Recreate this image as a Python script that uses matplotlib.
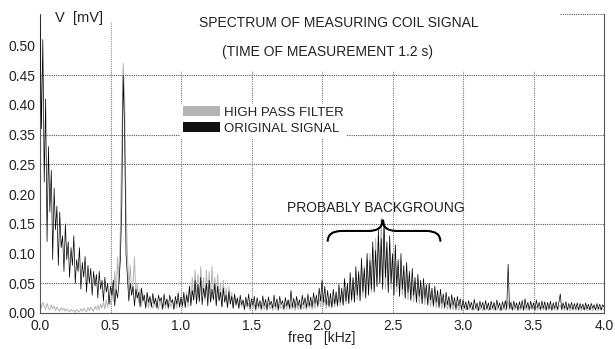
import numpy as np
import matplotlib.pyplot as plt
from matplotlib.patches import Patch, Rectangle, PathPatch
from matplotlib.path import Path

plt.rcParams['font.family'] = ['Liberation Sans', 'DejaVu Sans']

# frequency grid, kHz (step 0.01)
freq = np.round(np.arange(0, 401) * 0.01, 2)

# original signal (y in axis position units, see tick labels below)
original = [
    0.50, 0.31, 0.46, 0.22, 0.36, 0.12, 0.28, 0.17, 0.24, 0.09, 0.21, 0.14, 0.18, 0.08, 0.17, 0.11, 0.13, 0.07, 0.15, 0.09,
    0.12, 0.06, 0.11, 0.08, 0.13, 0.05, 0.09, 0.07, 0.11, 0.04, 0.085, 0.06, 0.095, 0.035, 0.08, 0.05, 0.075, 0.03, 0.07, 0.045,
    0.065, 0.025, 0.07, 0.04, 0.055, 0.02, 0.06, 0.035, 0.05, 0.015, 0.045, 0.03, 0.055, 0.012, 0.04, 0.025, 0.05, 0.09, 0.18, 0.40,
    0.31, 0.10, 0.06, 0.02, 0.05, 0.03, 0.045, 0.012, 0.04, 0.025, 0.035, 0.01, 0.042, 0.02, 0.03, 0.008, 0.035, 0.018, 0.028, 0.01,
    0.033, 0.015, 0.025, 0.008, 0.03, 0.02, 0.026, 0.007, 0.032, 0.014, 0.024, 0.009, 0.03, 0.018, 0.022, 0.006, 0.028, 0.015, 0.034, 0.01,
    0.027, 0.012, 0.035, 0.009, 0.03, 0.018, 0.045, 0.012, 0.038, 0.022, 0.055, 0.015, 0.048, 0.02, 0.06, 0.014, 0.042, 0.025, 0.05, 0.012,
    0.055, 0.018, 0.04, 0.022, 0.05, 0.012, 0.045, 0.02, 0.035, 0.01, 0.042, 0.018, 0.03, 0.009, 0.036, 0.015, 0.028, 0.008, 0.032, 0.014,
    0.025, 0.008, 0.03, 0.014, 0.022, 0.006, 0.027, 0.012, 0.032, 0.008, 0.024, 0.013, 0.028, 0.006, 0.026, 0.011, 0.021, 0.007, 0.029, 0.012,
    0.023, 0.006, 0.027, 0.013, 0.02, 0.008, 0.03, 0.011, 0.024, 0.006, 0.028, 0.014, 0.021, 0.007, 0.026, 0.012, 0.022, 0.008, 0.038, 0.01,
    0.025, 0.009, 0.028, 0.012, 0.022, 0.007, 0.03, 0.014, 0.026, 0.009, 0.032, 0.012, 0.027, 0.01, 0.034, 0.016, 0.03, 0.012, 0.042, 0.02,
    0.055, 0.018, 0.045, 0.014, 0.038, 0.012, 0.033, 0.01, 0.04, 0.015, 0.036, 0.012, 0.048, 0.018, 0.042, 0.013, 0.058, 0.02, 0.05, 0.016,
    0.068, 0.022, 0.06, 0.018, 0.078, 0.03, 0.07, 0.02, 0.092, 0.035, 0.075, 0.025, 0.10, 0.03, 0.088, 0.04, 0.12, 0.035, 0.105, 0.045,
    0.14, 0.05, 0.125, 0.04, 0.155, 0.06, 0.12, 0.035, 0.13, 0.05, 0.10, 0.03, 0.115, 0.045, 0.09, 0.028, 0.10, 0.04, 0.08, 0.025,
    0.085, 0.035, 0.07, 0.022, 0.075, 0.03, 0.06, 0.018, 0.065, 0.028, 0.055, 0.016, 0.058, 0.025, 0.048, 0.014, 0.05, 0.022, 0.042, 0.012,
    0.045, 0.018, 0.038, 0.01, 0.04, 0.016, 0.032, 0.009, 0.035, 0.014, 0.028, 0.008, 0.031, 0.013, 0.026, 0.007, 0.028, 0.012, 0.024, 0.006,
    0.022, 0.008, 0.019, 0.005, 0.021, 0.009, 0.018, 0.005, 0.023, 0.008, 0.017, 0.004, 0.02, 0.009, 0.018, 0.005, 0.021, 0.007, 0.017, 0.005,
    0.02, 0.008, 0.018, 0.005, 0.022, 0.009, 0.017, 0.004, 0.019, 0.008, 0.021, 0.006, 0.082, 0.008, 0.018, 0.005, 0.02, 0.009, 0.017, 0.005,
    0.019, 0.008, 0.021, 0.005, 0.024, 0.009, 0.018, 0.006, 0.02, 0.008, 0.017, 0.005, 0.022, 0.009, 0.018, 0.006, 0.02, 0.008, 0.019, 0.005,
    0.018, 0.007, 0.02, 0.005, 0.017, 0.008, 0.019, 0.006, 0.018, 0.032, 0.006, 0.017, 0.008, 0.019, 0.005, 0.016, 0.008, 0.018, 0.006, 0.016,
    0.007, 0.017, 0.005, 0.016, 0.008, 0.015, 0.005, 0.017, 0.007, 0.015, 0.005, 0.016, 0.008, 0.014, 0.005, 0.016, 0.007, 0.015, 0.005, 0.014,
    0.01,
]

highpass = [
    0.022, 0.008, 0.018, 0.012, 0.006, 0.016, 0.009, 0.005, 0.014, 0.007, 0.012, 0.004, 0.01, 0.006, 0.003, 0.009, 0.005, 0.008, 0.003, 0.007,
    0.004, 0.002, 0.006, 0.003, 0.005, 0.001, 0.006, 0.003, 0.002, 0.007, 0.003, 0.008, 0.004, 0.002, 0.009, 0.004, 0.01, 0.005, 0.003, 0.011,
    0.006, 0.013, 0.005, 0.015, 0.008, 0.018, 0.007, 0.022, 0.01, 0.028, 0.014, 0.04, 0.02, 0.07, 0.03, 0.094, 0.05, 0.14, 0.28, 0.42,
    0.36, 0.18, 0.10, 0.04, 0.08, 0.03, 0.05, 0.094, 0.025, 0.05, 0.018, 0.04, 0.012, 0.032, 0.02, 0.01, 0.028, 0.008, 0.025, 0.014,
    0.008, 0.024, 0.01, 0.02, 0.006, 0.022, 0.012, 0.005, 0.019, 0.008, 0.021, 0.006, 0.017, 0.01, 0.023, 0.007, 0.02, 0.009, 0.025, 0.01,
    0.022, 0.009, 0.028, 0.012, 0.035, 0.01, 0.045, 0.018, 0.06, 0.02, 0.072, 0.025, 0.065, 0.018, 0.078, 0.03, 0.06, 0.02, 0.072, 0.025,
    0.07, 0.02, 0.078, 0.03, 0.06, 0.015, 0.065, 0.025, 0.05, 0.012, 0.055, 0.02, 0.042, 0.01, 0.045, 0.016, 0.035, 0.008, 0.03, 0.012,
    0.026, 0.007, 0.022, 0.01, 0.02, 0.005, 0.018, 0.009, 0.016, 0.004, 0.018, 0.008, 0.015, 0.004, 0.017, 0.007, 0.014, 0.004, 0.016, 0.006,
    0.014, 0.004, 0.016, 0.007, 0.013, 0.004, 0.017, 0.006, 0.014, 0.003, 0.015, 0.007, 0.013, 0.004, 0.016, 0.006, 0.022, 0.005, 0.015, 0.006,
    0.013, 0.004, 0.016, 0.006, 0.014, 0.005, 0.017, 0.007, 0.015, 0.005, 0.018, 0.008, 0.016, 0.006, 0.02, 0.008, 0.022, 0.009, 0.025, 0.01,
    0.03, 0.012, 0.024, 0.008, 0.02, 0.009, 0.022, 0.008, 0.025, 0.01, 0.028, 0.011, 0.03, 0.012, 0.035, 0.014, 0.04, 0.015, 0.042, 0.016,
    0.048, 0.018, 0.055, 0.02, 0.06, 0.022, 0.065, 0.025, 0.075, 0.028, 0.08, 0.03, 0.09, 0.032, 0.10, 0.035, 0.11, 0.04, 0.125, 0.045,
    0.13, 0.05, 0.16, 0.045, 0.14, 0.04, 0.11, 0.035, 0.10, 0.04, 0.095, 0.03, 0.085, 0.035, 0.08, 0.028, 0.075, 0.03, 0.07, 0.025,
    0.065, 0.022, 0.06, 0.02, 0.055, 0.018, 0.05, 0.02, 0.048, 0.016, 0.045, 0.015, 0.042, 0.014, 0.04, 0.012, 0.036, 0.011, 0.033, 0.01,
    0.03, 0.009, 0.028, 0.008, 0.025, 0.007, 0.022, 0.007, 0.02, 0.006, 0.018, 0.005, 0.017, 0.005, 0.016, 0.004, 0.015, 0.004, 0.014, 0.004,
    0.006, 0.012, 0.005, 0.011, 0.006, 0.012, 0.005, 0.01, 0.005, 0.011, 0.004, 0.01, 0.005, 0.011, 0.004, 0.01, 0.005, 0.011, 0.004, 0.01,
    0.005, 0.011, 0.004, 0.01, 0.005, 0.011, 0.004, 0.01, 0.005, 0.011, 0.004, 0.012, 0.02, 0.005, 0.011, 0.004, 0.01, 0.005, 0.011, 0.004,
    0.01, 0.005, 0.011, 0.004, 0.012, 0.005, 0.01, 0.004, 0.011, 0.005, 0.01, 0.004, 0.011, 0.005, 0.01, 0.004, 0.011, 0.005, 0.01, 0.004,
    0.01, 0.005, 0.011, 0.004, 0.01, 0.005, 0.011, 0.004, 0.01, 0.013, 0.005, 0.01, 0.004, 0.011, 0.005, 0.01, 0.004, 0.01, 0.005, 0.009,
    0.004, 0.009, 0.005, 0.01, 0.004, 0.009, 0.005, 0.01, 0.004, 0.009, 0.005, 0.009, 0.004, 0.01, 0.005, 0.009, 0.004, 0.009, 0.005, 0.008,
    0.006,
]

ytick_labels = ['0.00', '0.05', '0.10', '0.15', '0.20', '0.25',
                '0.35', '0.40', '0.45', '0.50']
xticks = [0.0, 0.5, 1.0, 1.5, 2.0, 2.5, 3.0, 3.5, 4.0]
hgrid = [0.05, 0.15, 0.25, 0.30, 0.40]
vgrid = [0.5, 1.0, 1.5, 2.0, 2.5, 3.0, 3.5]

gray = '#b4b4b4'
ytop = 0.503

fig = plt.figure(figsize=(6.15, 3.49), dpi=100)
ax = fig.add_axes([40 / 615, 36 / 349, 564 / 615, 299 / 349])

for y in hgrid:
    ax.axhline(y, color='#555555', lw=0.8, ls=(0, (1, 1)), zorder=0.5)
for x in vgrid:
    ax.axvline(x, color='#777777', lw=0.8, ls=(0, (1, 1)), zorder=0.5)

# white areas behind title and y label hide the grid there
ax.add_patch(Rectangle((0.51, 0.409), 3.18, 0.2, color='white', zorder=0.8))
ax.add_patch(Rectangle((0.0, 0.4916), 0.55, 0.1, color='white', zorder=0.8))

ax.plot(freq, highpass, color=gray, lw=0.7, zorder=2)
ax.plot(freq, original, color='black', lw=0.5, zorder=3)

ax.set_xlim(0, 4.0)
ax.set_ylim(0, ytop)
ax.set_xticks(xticks)
ax.set_xticklabels(['%.1f' % v for v in xticks])
ax.set_yticks(np.arange(len(ytick_labels)) * 0.05)
ax.set_yticklabels(ytick_labels)
ax.tick_params(axis='y', length=0, pad=3, labelsize=10, labelcolor='#222222')
ax.tick_params(axis='x', length=0, pad=4, labelsize=10, labelcolor='#222222')

for side in ['left', 'right', 'bottom']:
    ax.spines[side].set_linestyle((0, (1, 1)))
    ax.spines[side].set_color('#555555')
    ax.spines[side].set_linewidth(0.8)
ax.spines['top'].set_visible(False)
ax.plot([3.69, 4.0], [ytop, ytop], color='#555555', lw=0.8, ls=(0, (1, 1)),
        clip_on=False, zorder=1)

ax.text(0.027, 0.985, 'V  [mV]', transform=ax.transAxes, fontsize=10.5,
        ha='left', va='center', color='#222222')
ax.set_xlabel('freq   [kHz]', fontsize=10, color='#222222', labelpad=-1)

ax.text(2.12, 0.488, 'SPECTRUM OF MEASURING COIL SIGNAL', fontsize=10,
        ha='center', va='center', color='#222222')
ax.text(2.04, 0.439, '(TIME OF MEASUREMENT 1.2 s)', fontsize=10,
        ha='center', va='center', color='#222222')

handles = [Patch(facecolor=gray, edgecolor='none'),
           Patch(facecolor='#111111', edgecolor='none')]
leg = ax.legend(handles, ['HIGH PASS FILTER', 'ORIGINAL SIGNAL'],
                loc='upper left', bbox_to_anchor=(0.249, 0.70),
                fontsize=9.5, frameon=True, fancybox=False, framealpha=1,
                edgecolor='none', facecolor='white', borderpad=0.2,
                handlelength=2.8, handleheight=0.8, handletextpad=0.3,
                labelspacing=0.25, borderaxespad=0)
for t in leg.get_texts():
    t.set_color('#222222')

# curly brace over the background hump
x0, xm, x1 = 2.04, 2.43, 2.84
ye, ym, yt = 0.12, 0.138, 0.157
d = 0.1
verts = [(x0, ye), (x0, ym), (x0 + d, ym),
         (xm - d, ym),
         (xm, ym), (xm, yt),
         (xm, ym), (xm + d, ym),
         (x1 - d, ym),
         (x1, ym), (x1, ye)]
codes = [Path.MOVETO, Path.CURVE3, Path.CURVE3,
         Path.LINETO,
         Path.CURVE3, Path.CURVE3,
         Path.CURVE3, Path.CURVE3,
         Path.LINETO,
         Path.CURVE3, Path.CURVE3]
ax.add_patch(PathPatch(Path(verts, codes), facecolor='none',
                       edgecolor='black', lw=1.5, zorder=4))
ax.text(2.38, 0.177, 'PROBABLY BACKGROUNG', fontsize=10, ha='center',
        va='center', color='#222222')

fig.savefig('out.png', dpi=100)
